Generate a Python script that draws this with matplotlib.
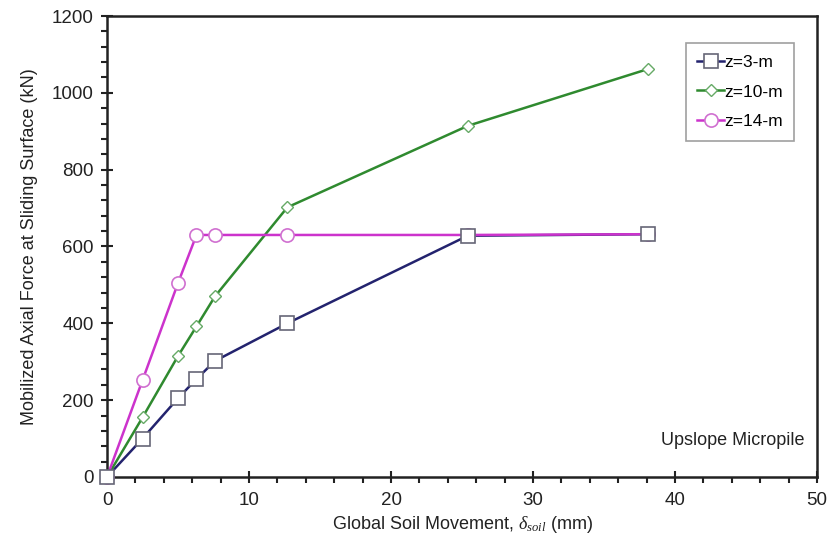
import matplotlib
matplotlib.use("Agg")
import matplotlib.pyplot as plt
from matplotlib.ticker import MultipleLocator

plt.rcParams['font.family'] = ['Liberation Sans', 'DejaVu Sans']
plt.rcParams['mathtext.fontset'] = 'custom'
plt.rcParams['mathtext.it'] = 'Liberation Serif:italic'
plt.rcParams['mathtext.rm'] = 'Liberation Sans'

x_vals = [0, 2.5, 5.0, 6.3, 7.6, 12.7, 25.4, 38.1]
z3 = [0, 100, 205, 255, 302, 400, 628, 632]
z10 = [0, 155, 315, 392, 470, 702, 914, 1062]
x14 = [0, 2.5, 5.0, 6.3, 7.6, 12.7, 25.4, 38.1]
z14 = [0, 252, 505, 630, 630, 630, 630, 632]
labels = ['z=3-m', 'z=10-m', 'z=14-m']

fig = plt.figure(figsize=(8.31, 5.48), dpi=100)
ax = fig.add_axes([0.1288, 0.1296, 0.8544, 0.8412])

c3, c10, c14 = '#23236e', '#2f8a2f', '#cc33cc'

# lines
ax.plot(x_vals, z3, color=c3, lw=1.8, zorder=2)
ax.plot(x_vals, z10, color=c10, lw=1.8, zorder=2)
ax.plot(x14, z14, color=c14, lw=1.8, zorder=2.1)
# markers
ax.plot(x14, z14, ls='none', marker='o', ms=9.5, mfc='white', mec='#d070d0', mew=1.2, zorder=3, clip_on=False)
ax.plot(x_vals, z10, ls='none', marker='D', ms=6.5, mfc='white', mec='#66aa66', mew=1.0, zorder=3.1, clip_on=False)
ax.plot(x_vals, z3, ls='none', marker='s', ms=9.5, mfc='white', mec='#666677', mew=1.2, zorder=3.2, clip_on=False)

h3, = ax.plot([], [], color=c3, lw=1.8, marker='s', ms=9.5, mfc='white', mec='#666677', mew=1.2)
h10, = ax.plot([], [], color=c10, lw=1.8, marker='D', ms=6.5, mfc='white', mec='#66aa66', mew=1.0)
h14, = ax.plot([], [], color=c14, lw=1.8, marker='o', ms=9.5, mfc='white', mec='#d070d0', mew=1.2)
leg = ax.legend([h3, h10, h14], labels, loc='upper right', bbox_to_anchor=(0.968, 0.941),
                borderaxespad=0, fancybox=False, frameon=True, fontsize=12.5,
                handlelength=1.5, handletextpad=0.05, labelspacing=0.85, borderpad=0.65)
leg.get_frame().set_edgecolor('#888888')
leg.get_frame().set_linewidth(1.2)

ax.set_xlim(0, 50)
ax.set_ylim(0, 1200)
ax.xaxis.set_major_locator(MultipleLocator(10))
ax.xaxis.set_minor_locator(MultipleLocator(2))
ax.yaxis.set_major_locator(MultipleLocator(200))
ax.yaxis.set_minor_locator(MultipleLocator(40))
ax.tick_params(which='major', direction='inout', length=9, width=1.5, labelsize=13.5, colors='#222222')
ax.tick_params(which='minor', direction='out', length=4, width=1.5, colors='#222222')
ax.tick_params(axis='x', pad=6)
ax.tick_params(axis='y', pad=5)
for s in ax.spines.values():
    s.set_linewidth(1.8)
    s.set_color('#222222')

ax.set_xlabel(r'Global Soil Movement, $\delta_{soil}$ (mm)', fontsize=13, color='#222222', labelpad=4)
ax.set_ylabel('Mobilized Axial Force at Sliding Surface (kN)', fontsize=13, color='#222222', labelpad=10)
ax.text(0.983, 0.08, 'Upslope Micropile', transform=ax.transAxes, ha='right', va='center',
        fontsize=13, color='#222222')

fig.savefig('out.png', dpi=100)
